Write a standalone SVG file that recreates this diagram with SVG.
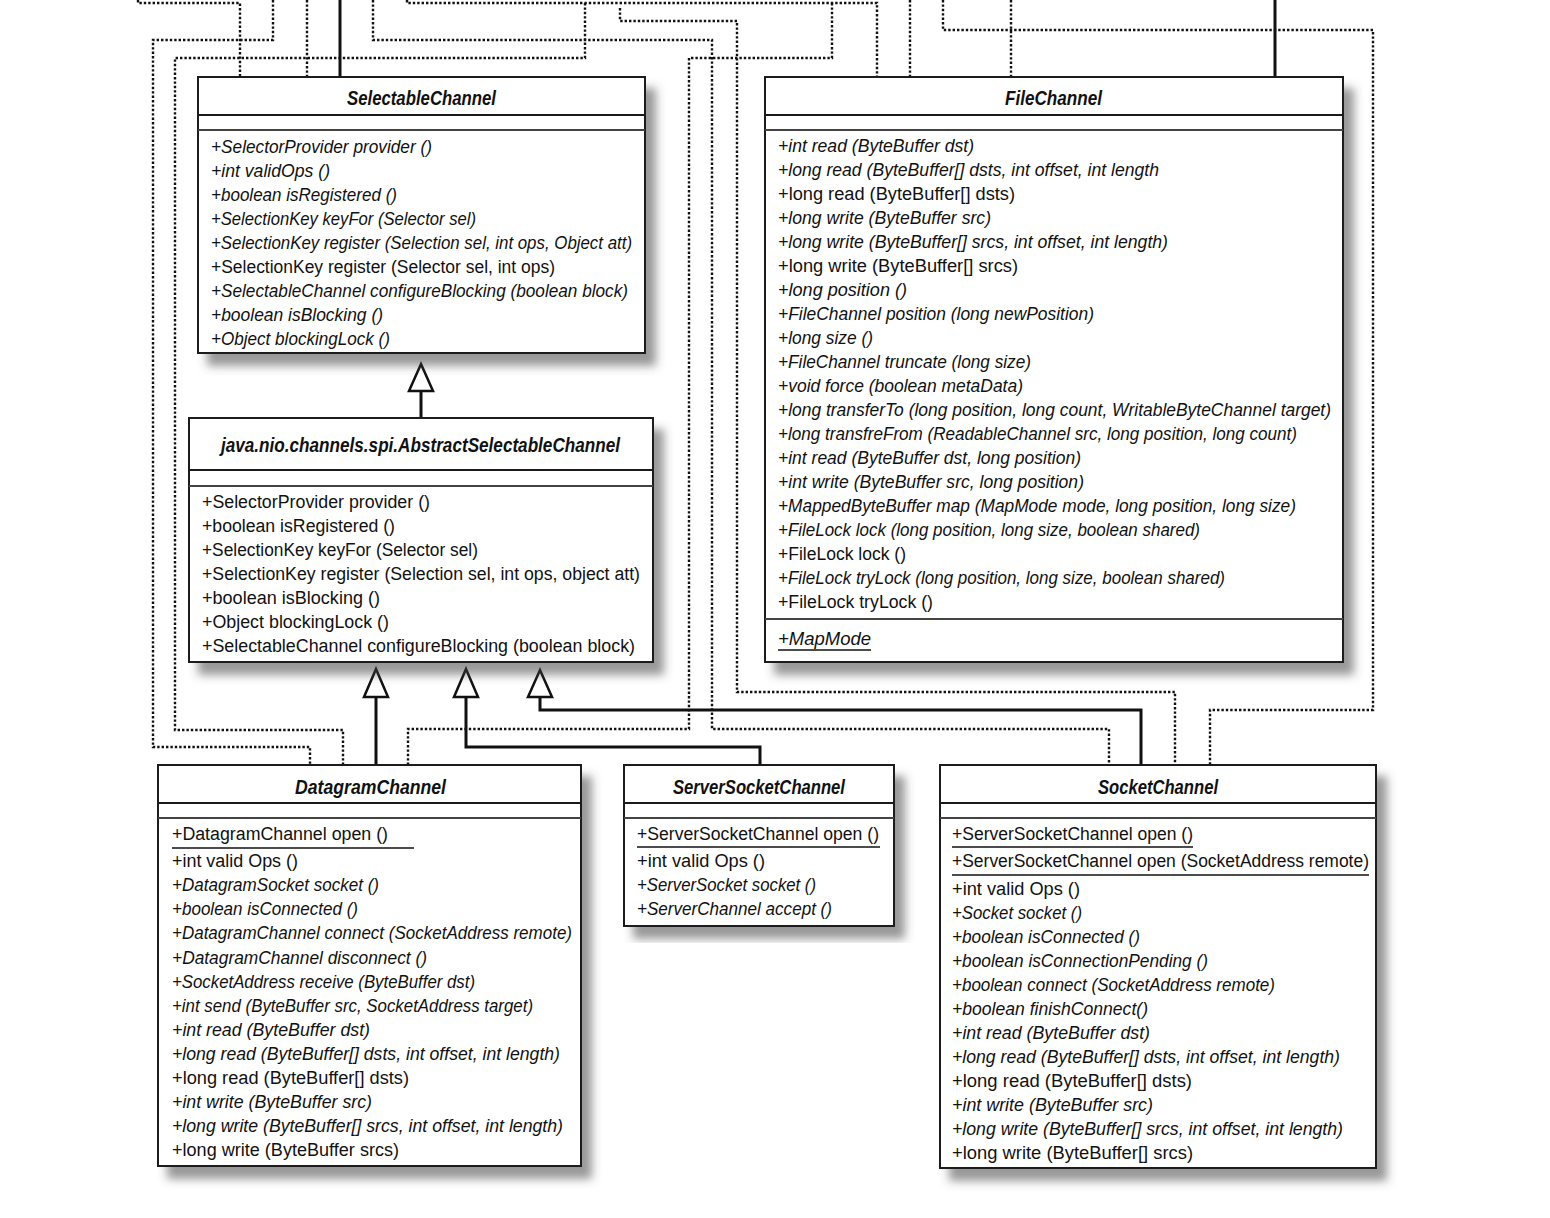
<svg xmlns="http://www.w3.org/2000/svg" width="1550" height="1218" viewBox="0 0 1550 1218">
<defs>
<filter id="sh" x="-5%" y="-5%" width="115%" height="115%">
<feDropShadow dx="10" dy="12" stdDeviation="5" flood-color="#444" flood-opacity="0.55"/>
</filter>
<style>
.box{fill:#fff;stroke:#1a1a1a;stroke-width:2;filter:url(#sh)}
.sep{stroke:#1a1a1a;stroke-width:2}
.sep2{stroke:#444;stroke-width:2}
.t{font-family:"Liberation Sans",Arial,sans-serif;font-size:18px;fill:#111}
.i{font-style:italic}
.title{font-family:"Liberation Sans",Arial,sans-serif;font-size:20px;font-style:italic;font-weight:bold;fill:#111}
.dot{fill:none;stroke:#111;stroke-width:2.4;stroke-dasharray:2.4 2}
.solid{fill:none;stroke:#111;stroke-width:3}
.tri{fill:#fff;stroke:#111;stroke-width:2.5;stroke-linejoin:miter}
.ul{stroke:#111;stroke-width:1.6}
</style>
</defs>
<rect width="1550" height="1218" fill="#fff"/>

<g id="connectors">
<path class="dot" d="M138,0 V3 H240 V77"/>
<path class="dot" d="M273,0 V40 H153 V747 H310 V765"/>
<path class="dot" d="M307,0 V77"/>
<path class="dot" d="M373,0 V40 H712 V729 H1109 V765"/>
<path class="dot" d="M407,0 V3 H877 V77"/>
<path class="dot" d="M585,3 V58 H175 V730 H343 V765"/>
<path class="dot" d="M620,8 V21 H737 V692 H1175 V765"/>
<path class="dot" d="M910,0 V77"/>
<path class="dot" d="M943,0 V30 H1373 V710 H1210 V765"/>
<path class="dot" d="M1011,0 V77"/>
<path class="dot" d="M832,3 V58 H689 V729 H408 V765"/>
<path class="solid" d="M340,0 V77"/>
<path class="solid" d="M1275,0 V77"/>
<path class="solid" d="M421,391 V418"/>
<path class="solid" d="M376,697 V765"/>
<path class="solid" d="M466,697 V747 H760 V765"/>
<path class="solid" d="M540,697 V710 H1141 V765"/>
<path class="tri" d="M421,364 L433,391 L409,391 Z"/>
<path class="tri" d="M376,669 L388,697 L364,697 Z"/>
<path class="tri" d="M466,669 L478,697 L454,697 Z"/>
<path class="tri" d="M540,670 L552,697 L528,697 Z"/>
</g>

<g id="SelectableChannel">
<rect class="box" x="198" y="77" width="447" height="276"/>
<line class="sep" x1="198" y1="115" x2="645" y2="115"/>
<line class="sep2" x1="198" y1="130" x2="645" y2="130"/>
<text class="title" x="347" y="105" textLength="149" lengthAdjust="spacingAndGlyphs">SelectableChannel</text>
<text class="t i" x="211" y="153" textLength="221" lengthAdjust="spacingAndGlyphs">+SelectorProvider provider ()</text>
<text class="t i" x="211" y="177" textLength="119" lengthAdjust="spacingAndGlyphs">+int validOps ()</text>
<text class="t i" x="211" y="201" textLength="186" lengthAdjust="spacingAndGlyphs">+boolean isRegistered ()</text>
<text class="t i" x="211" y="225" textLength="265" lengthAdjust="spacingAndGlyphs">+SelectionKey keyFor (Selector sel)</text>
<text class="t i" x="211" y="249" textLength="421" lengthAdjust="spacingAndGlyphs">+SelectionKey register (Selection sel, int ops, Object att)</text>
<text class="t" x="211" y="273" textLength="344" lengthAdjust="spacingAndGlyphs">+SelectionKey register (Selector sel, int ops)</text>
<text class="t i" x="211" y="297" textLength="417" lengthAdjust="spacingAndGlyphs">+SelectableChannel configureBlocking (boolean block)</text>
<text class="t i" x="211" y="321" textLength="172" lengthAdjust="spacingAndGlyphs">+boolean isBlocking ()</text>
<text class="t i" x="211" y="345" textLength="179" lengthAdjust="spacingAndGlyphs">+Object blockingLock ()</text>
</g>

<g id="AbstractSelectableChannel">
<rect class="box" x="189" y="418" width="464" height="244"/>
<line class="sep" x1="189" y1="470" x2="653" y2="470"/>
<line class="sep2" x1="189" y1="486" x2="653" y2="486"/>
<text class="title" x="221" y="452" textLength="399" lengthAdjust="spacingAndGlyphs">java.nio.channels.spi.AbstractSelectableChannel</text>
<text class="t" x="202" y="508" textLength="228" lengthAdjust="spacingAndGlyphs">+SelectorProvider provider ()</text>
<text class="t" x="202" y="532" textLength="193" lengthAdjust="spacingAndGlyphs">+boolean isRegistered ()</text>
<text class="t" x="202" y="556" textLength="276" lengthAdjust="spacingAndGlyphs">+SelectionKey keyFor (Selector sel)</text>
<text class="t" x="202" y="580" textLength="438" lengthAdjust="spacingAndGlyphs">+SelectionKey register (Selection sel, int ops, object att)</text>
<text class="t" x="202" y="604" textLength="178" lengthAdjust="spacingAndGlyphs">+boolean isBlocking ()</text>
<text class="t" x="202" y="628" textLength="187" lengthAdjust="spacingAndGlyphs">+Object blockingLock ()</text>
<text class="t" x="202" y="652" textLength="433" lengthAdjust="spacingAndGlyphs">+SelectableChannel configureBlocking (boolean block)</text>
</g>

<g id="FileChannel">
<rect class="box" x="765" y="77" width="578" height="585"/>
<line class="sep" x1="765" y1="115" x2="1343" y2="115"/>
<line class="sep2" x1="765" y1="130" x2="1343" y2="130"/>
<line class="sep2" x1="765" y1="619" x2="1343" y2="619"/>
<text class="title" x="1005" y="105" textLength="97" lengthAdjust="spacingAndGlyphs">FileChannel</text>
<text class="t i" x="778" y="152" textLength="196" lengthAdjust="spacingAndGlyphs">+int read (ByteBuffer dst)</text>
<text class="t i" x="778" y="176" textLength="381" lengthAdjust="spacingAndGlyphs">+long read (ByteBuffer[] dsts, int offset, int length</text>
<text class="t" x="778" y="200" textLength="237" lengthAdjust="spacingAndGlyphs">+long read (ByteBuffer[] dsts)</text>
<text class="t i" x="778" y="224" textLength="213" lengthAdjust="spacingAndGlyphs">+long write (ByteBuffer src)</text>
<text class="t i" x="778" y="248" textLength="390" lengthAdjust="spacingAndGlyphs">+long write (ByteBuffer[] srcs, int offset, int length)</text>
<text class="t" x="778" y="272" textLength="240" lengthAdjust="spacingAndGlyphs">+long write (ByteBuffer[] srcs)</text>
<text class="t i" x="778" y="296" textLength="129" lengthAdjust="spacingAndGlyphs">+long position ()</text>
<text class="t i" x="778" y="320" textLength="316" lengthAdjust="spacingAndGlyphs">+FileChannel position (long newPosition)</text>
<text class="t i" x="778" y="344" textLength="95" lengthAdjust="spacingAndGlyphs">+long size ()</text>
<text class="t i" x="778" y="368" textLength="253" lengthAdjust="spacingAndGlyphs">+FileChannel truncate (long size)</text>
<text class="t i" x="778" y="392" textLength="245" lengthAdjust="spacingAndGlyphs">+void force (boolean metaData)</text>
<text class="t i" x="778" y="416" textLength="553" lengthAdjust="spacingAndGlyphs">+long transferTo (long position, long count, WritableByteChannel target)</text>
<text class="t i" x="778" y="440" textLength="519" lengthAdjust="spacingAndGlyphs">+long transfreFrom (ReadableChannel src, long position, long count)</text>
<text class="t i" x="778" y="464" textLength="303" lengthAdjust="spacingAndGlyphs">+int read (ByteBuffer dst, long position)</text>
<text class="t i" x="778" y="488" textLength="306" lengthAdjust="spacingAndGlyphs">+int write (ByteBuffer src, long position)</text>
<text class="t i" x="778" y="512" textLength="518" lengthAdjust="spacingAndGlyphs">+MappedByteBuffer map (MapMode mode, long position, long size)</text>
<text class="t i" x="778" y="536" textLength="422" lengthAdjust="spacingAndGlyphs">+FileLock lock (long position, long size, boolean shared)</text>
<text class="t" x="778" y="560" textLength="128" lengthAdjust="spacingAndGlyphs">+FileLock lock ()</text>
<text class="t i" x="778" y="584" textLength="447" lengthAdjust="spacingAndGlyphs">+FileLock tryLock (long position, long size, boolean shared)</text>
<text class="t" x="778" y="608" textLength="155" lengthAdjust="spacingAndGlyphs">+FileLock tryLock ()</text>
<text class="t i" x="778" y="645" textLength="93" lengthAdjust="spacingAndGlyphs">+MapMode</text>
<line class="ul" x1="778" y1="650" x2="871" y2="650"/>
</g>

<g id="DatagramChannel">
<rect class="box" x="158" y="765" width="423" height="401"/>
<line class="sep" x1="158" y1="803" x2="581" y2="803"/>
<line class="sep2" x1="158" y1="818" x2="581" y2="818"/>
<text class="title" x="295" y="794" textLength="151" lengthAdjust="spacingAndGlyphs">DatagramChannel</text>
<text class="t" x="172" y="840" textLength="216" lengthAdjust="spacingAndGlyphs">+DatagramChannel open ()</text>
<line class="ul" x1="172" y1="848" x2="414" y2="848"/>
<text class="t" x="172" y="867" textLength="126" lengthAdjust="spacingAndGlyphs">+int valid Ops ()</text>
<text class="t i" x="172" y="891" textLength="207" lengthAdjust="spacingAndGlyphs">+DatagramSocket socket ()</text>
<text class="t i" x="172" y="915" textLength="186" lengthAdjust="spacingAndGlyphs">+boolean isConnected ()</text>
<text class="t i" x="172" y="939" textLength="400" lengthAdjust="spacingAndGlyphs">+DatagramChannel connect (SocketAddress remote)</text>
<text class="t i" x="172" y="964" textLength="255" lengthAdjust="spacingAndGlyphs">+DatagramChannel disconnect ()</text>
<text class="t i" x="172" y="988" textLength="303" lengthAdjust="spacingAndGlyphs">+SocketAddress receive (ByteBuffer dst)</text>
<text class="t i" x="172" y="1012" textLength="361" lengthAdjust="spacingAndGlyphs">+int send (ByteBuffer src, SocketAddress target)</text>
<text class="t i" x="172" y="1036" textLength="198" lengthAdjust="spacingAndGlyphs">+int read (ByteBuffer dst)</text>
<text class="t i" x="172" y="1060" textLength="388" lengthAdjust="spacingAndGlyphs">+long read (ByteBuffer[] dsts, int offset, int length)</text>
<text class="t" x="172" y="1084" textLength="237" lengthAdjust="spacingAndGlyphs">+long read (ByteBuffer[] dsts)</text>
<text class="t i" x="172" y="1108" textLength="200" lengthAdjust="spacingAndGlyphs">+int write (ByteBuffer src)</text>
<text class="t i" x="172" y="1132" textLength="391" lengthAdjust="spacingAndGlyphs">+long write (ByteBuffer[] srcs, int offset, int length)</text>
<text class="t" x="172" y="1156" textLength="227" lengthAdjust="spacingAndGlyphs">+long write (ByteBuffer srcs)</text>
</g>

<g id="ServerSocketChannel">
<rect class="box" x="624" y="765" width="270" height="161"/>
<line class="sep" x1="624" y1="803" x2="894" y2="803"/>
<line class="sep2" x1="624" y1="818" x2="894" y2="818"/>
<text class="title" x="673" y="794" textLength="172" lengthAdjust="spacingAndGlyphs">ServerSocketChannel</text>
<text class="t" x="637" y="840" textLength="242" lengthAdjust="spacingAndGlyphs">+ServerSocketChannel open ()</text>
<line class="ul" x1="637" y1="847" x2="880" y2="847"/>
<text class="t" x="637" y="867" textLength="128" lengthAdjust="spacingAndGlyphs">+int valid Ops ()</text>
<text class="t i" x="637" y="891" textLength="179" lengthAdjust="spacingAndGlyphs">+ServerSocket socket ()</text>
<text class="t i" x="637" y="915" textLength="195" lengthAdjust="spacingAndGlyphs">+ServerChannel accept ()</text>
</g>

<g id="SocketChannel">
<rect class="box" x="940" y="765" width="436" height="403"/>
<line class="sep" x1="940" y1="803" x2="1376" y2="803"/>
<line class="sep2" x1="940" y1="818" x2="1376" y2="818"/>
<text class="title" x="1098" y="794" textLength="120" lengthAdjust="spacingAndGlyphs">SocketChannel</text>
<text class="t" x="952" y="840" textLength="241" lengthAdjust="spacingAndGlyphs">+ServerSocketChannel open ()</text>
<line class="ul" x1="952" y1="847" x2="1193" y2="847"/>
<text class="t" x="952" y="867" textLength="417" lengthAdjust="spacingAndGlyphs">+ServerSocketChannel open (SocketAddress remote)</text>
<line class="ul" x1="952" y1="875" x2="1369" y2="875"/>
<text class="t" x="952" y="895" textLength="128" lengthAdjust="spacingAndGlyphs">+int valid Ops ()</text>
<text class="t i" x="952" y="919" textLength="130" lengthAdjust="spacingAndGlyphs">+Socket socket ()</text>
<text class="t i" x="952" y="943" textLength="188" lengthAdjust="spacingAndGlyphs">+boolean isConnected ()</text>
<text class="t i" x="952" y="967" textLength="256" lengthAdjust="spacingAndGlyphs">+boolean isConnectionPending ()</text>
<text class="t i" x="952" y="991" textLength="323" lengthAdjust="spacingAndGlyphs">+boolean connect (SocketAddress remote)</text>
<text class="t i" x="952" y="1015" textLength="196" lengthAdjust="spacingAndGlyphs">+boolean finishConnect()</text>
<text class="t i" x="952" y="1039" textLength="198" lengthAdjust="spacingAndGlyphs">+int read (ByteBuffer dst)</text>
<text class="t i" x="952" y="1063" textLength="388" lengthAdjust="spacingAndGlyphs">+long read (ByteBuffer[] dsts, int offset, int length)</text>
<text class="t" x="952" y="1087" textLength="240" lengthAdjust="spacingAndGlyphs">+long read (ByteBuffer[] dsts)</text>
<text class="t i" x="952" y="1111" textLength="201" lengthAdjust="spacingAndGlyphs">+int write (ByteBuffer src)</text>
<text class="t i" x="952" y="1135" textLength="391" lengthAdjust="spacingAndGlyphs">+long write (ByteBuffer[] srcs, int offset, int length)</text>
<text class="t" x="952" y="1159" textLength="241" lengthAdjust="spacingAndGlyphs">+long write (ByteBuffer[] srcs)</text>
</g>
</svg>
